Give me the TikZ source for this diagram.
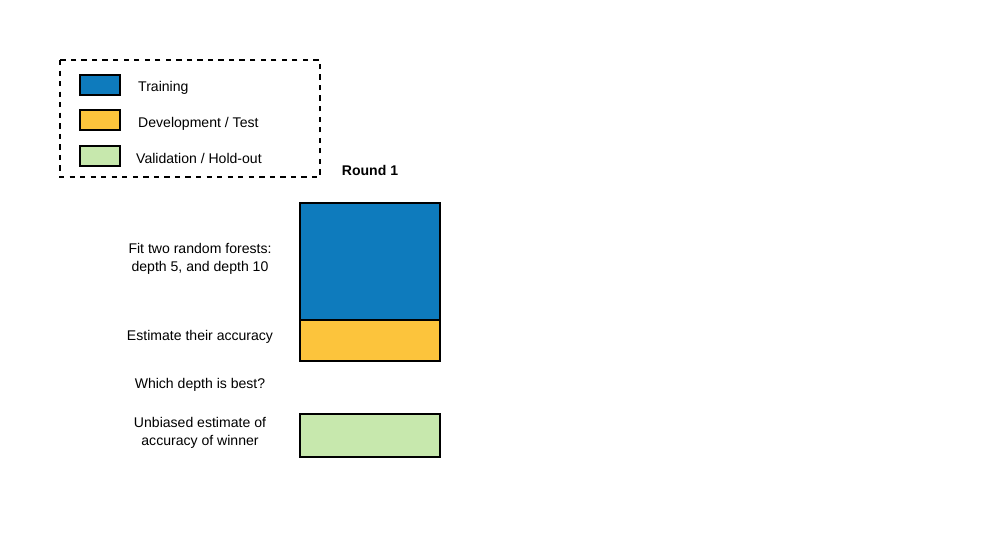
\documentclass[tikz,border=0pt]{standalone}
\usepackage{fontspec}
\setmainfont{Liberation Sans}
\definecolor{cblue}{HTML}{0E7BBD}
\definecolor{cyellow}{HTML}{FCC43C}
\definecolor{cgreen}{HTML}{C7E8AD}
\begin{document}
\begin{tikzpicture}[x=0.02cm,y=-0.02cm,
  box/.style={draw=black,line width=0.8pt},
  lbl/.style={font=\fontsize{8}{10}\selectfont,align=center},
  leg/.style={font=\fontsize{8}{10}\selectfont,anchor=west}]
\useasboundingbox (0,0) rectangle (1000,558);
\draw[dashed,line width=0.8pt] (60,60) rectangle (320,177);
\draw[box,fill=cblue] (80,75) rectangle (120,95);
\draw[box,fill=cyellow] (80,110) rectangle (120,130);
\draw[box,fill=cgreen] (80,146) rectangle (120,166);
\node[leg] (l1) at (132,88) {Training};
\node[leg] (l2) at (132,124) {Development / Test};
\node[leg] (l3) at (130,158) {Validation / Hold-out};
\node[lbl,font=\fontsize{8}{10}\selectfont\bfseries] (r1) at (370,170) {Round 1};
\draw[box,fill=cblue] (300,203) rectangle (440,320);
\draw[box,fill=cyellow] (300,320) rectangle (440,361);
\draw[box,fill=cgreen] (300,414) rectangle (440,457);
\node[lbl] (t1) at (200,259) {Fit two random forests:\\depth 5, and depth 10};
\node[lbl] (t2) at (200,337) {Estimate their accuracy};
\node[lbl] (t3) at (200,385) {Which depth is best?};
\node[lbl] (t4) at (200,433) {Unbiased estimate of\\accuracy of winner};
\end{tikzpicture}
\end{document}
